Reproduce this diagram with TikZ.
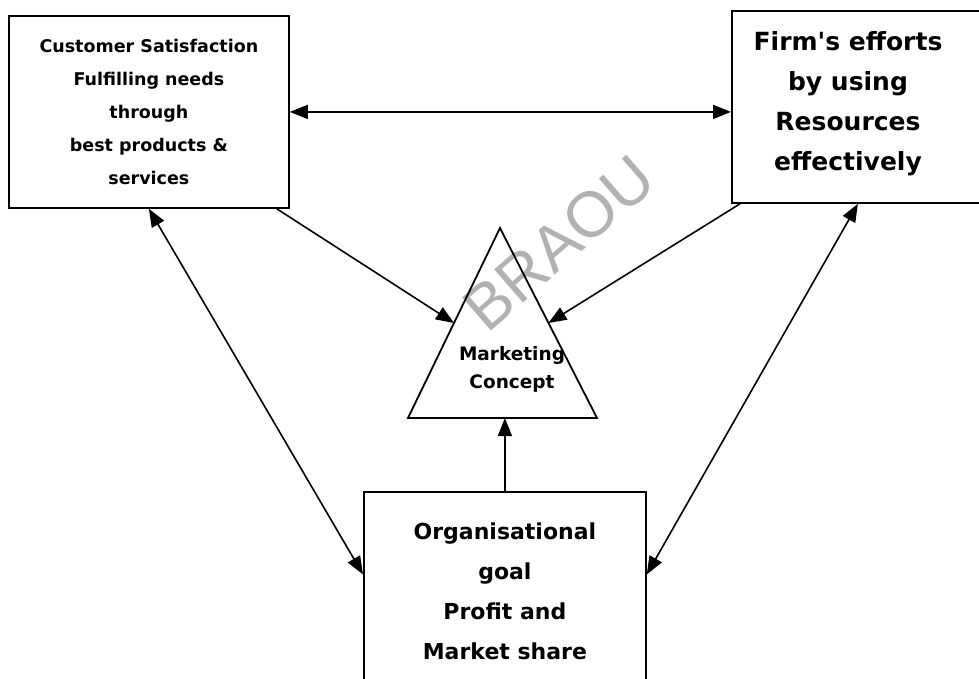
\documentclass[tikz,border=0pt]{standalone}
\usepackage{fontspec}
\setmainfont{Liberation Sans}
\newfontfamily\lblfont{DejaVu Sans}
\usetikzlibrary{arrows.meta,calc}
\begin{document}
\begin{tikzpicture}[x=1pt,y=-1pt, line width=1.6pt,
  box/.style={draw, line width=1.8pt, anchor=north west, inner sep=0pt, align=center},
  tip/.style={-{Triangle[length=18pt,width=14pt]}},
  dtip/.style={{Triangle[length=18pt,width=14pt]}-{Triangle[length=18pt,width=14pt]}}]
\useasboundingbox (0,0) rectangle (979,678);
% watermark
\node[rotate=41, font=\fontsize{64}{64}\selectfont, text=gray!60] (wm) at (559,243) {BRAOU};
% boxes
\node[box, minimum width=280pt, minimum height=192pt, font=\lblfont\fontsize{17.5}{33}\selectfont\bfseries] (b1) at (8,15)
  {Customer Satisfaction\\ Fulfilling needs\\ through\\ best products \&\\ services};
\node[box, minimum width=252pt, minimum height=192pt] (b2) at (731,10) {};
\node[font=\lblfont\fontsize{25}{40}\selectfont\bfseries, align=center] (b2t) at (848,104)
  {Firm's efforts\\ by using\\ Resources\\ effectively};
\node[box, minimum width=282pt, minimum height=199pt, font=\lblfont\fontsize{22}{40}\selectfont\bfseries] (b3) at (363,491)
  {Organisational\\ goal\\ Profit and\\ Market share};
% triangle
\coordinate (tA) at (500,228);
\coordinate (tL) at (408,418);
\coordinate (tR) at (597,418);
\draw[line width=1.8pt] (tA) -- (tL) -- (tR) -- cycle;
\coordinate (tl) at ($(tL)!0.5!(tA)$);
\coordinate (tr) at ($(tR)!0.5!(tA)$);
\node[font=\lblfont\fontsize{18.5}{28}\selectfont\bfseries, align=center] (mc) at (512,369) {Marketing\\ Concept};
% connectors
\draw[dtip] (b1.east) -- (b1.east -| b2.west);
\draw[tip] ([xshift=-13pt]b1.south east) -- (tl);
\draw[tip] ([xshift=9pt]b2.south west) -- (tr);
\draw[tip] (b3.north) -- (b3.north |- tL);
\draw[dtip] (b1.south) -- ([yshift=17pt]b3.west);
\draw[dtip] (b2.south) -- ([yshift=17pt]b3.east);
\end{tikzpicture}
\end{document}
